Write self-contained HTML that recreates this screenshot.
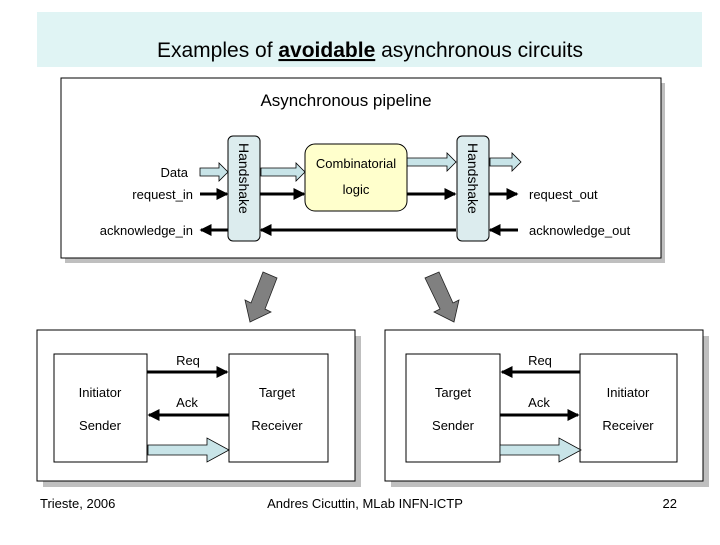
<!DOCTYPE html>
<html><head><style>
body{margin:0;width:720px;height:540px;background:#fff;overflow:hidden;font-family:"Liberation Sans",sans-serif;}
</style></head><body>
<svg width="720" height="540" xmlns="http://www.w3.org/2000/svg" font-family="Liberation Sans, sans-serif">
<defs>
<marker id="ah" markerWidth="4" markerHeight="4" refX="3.5" refY="2" orient="auto" markerUnits="strokeWidth"><path d="M0,0 L4,2 L0,4 z" fill="#000"/></marker>
</defs>
<rect x="37" y="12" width="665" height="55" fill="#e0f4f4"/>
<text x="370" y="57" font-size="21" text-anchor="middle">Examples of <tspan font-weight="bold" text-decoration="underline">avoidable</tspan> asynchronous circuits</text>

<!-- top box -->
<rect x="65" y="83" width="600" height="180" fill="#bfbfbf"/>
<rect x="61" y="78" width="600" height="180" fill="#fff" stroke="#000" stroke-width="1"/>
<text x="346" y="106" font-size="17" text-anchor="middle">Asynchronous pipeline</text>

<g stroke="#000" stroke-width="3" fill="none">
<line x1="200" y1="194" x2="227" y2="194" marker-end="url(#ah)"/>
<line x1="260" y1="194" x2="304" y2="194" marker-end="url(#ah)"/>
<line x1="407" y1="194" x2="455" y2="194" marker-end="url(#ah)"/>
<line x1="489" y1="194" x2="517" y2="194" marker-end="url(#ah)"/>
<line x1="228" y1="230" x2="201" y2="230" marker-end="url(#ah)"/>
<line x1="456" y1="230" x2="261" y2="230" marker-end="url(#ah)"/>
<line x1="518" y1="230" x2="490" y2="230" marker-end="url(#ah)"/>
</g>
<g fill="#c8e4e8" stroke="#000" stroke-width="0.8">
<path d="M200,168 h19 v-5 l9,9 l-9,9 v-5 h-19z"/>
<path d="M261,168 h35 v-5 l9,9 l-9,9 v-5 h-35z"/>
<path d="M407,158 h40 v-5 l9,9 l-9,9 v-5 h-40z"/>
<path d="M490,158 h22 v-5 l9,9 l-9,9 v-5 h-22z"/>
</g>
<rect x="228" y="136" width="32" height="105" rx="5" fill="#dcecee" stroke="#000"/>
<rect x="457" y="136" width="32" height="105" rx="5" fill="#dcecee" stroke="#000"/>
<text font-size="14" transform="translate(239,143) rotate(90)">Handshake</text>
<text font-size="14" transform="translate(468,143) rotate(90)">Handshake</text>
<rect x="305" y="144" width="102" height="67" rx="10" fill="#ffffcc" stroke="#000"/>
<text x="356" y="168" font-size="13" text-anchor="middle">Combinatorial</text>
<text x="356" y="194" font-size="13" text-anchor="middle">logic</text>
<g font-size="13">
<text x="188" y="177" text-anchor="end">Data</text>
<text x="193" y="199" text-anchor="end">request_in</text>
<text x="193" y="235" text-anchor="end">acknowledge_in</text>
<text x="529" y="199">request_out</text>
<text x="529" y="235">acknowledge_out</text>
</g>

<!-- gray arrows -->
<path d="M263,272 L277,278 L265,309 L271,312 L250,322 L245,300 L251,303 Z" fill="#808080" stroke="#222" stroke-width="0.8"/>
<path d="M439,272 L453,303 L459,300 L454,322 L434,312 L440,309 L425,278 Z" fill="#808080" stroke="#222" stroke-width="0.8"/>

<!-- bottom left -->
<rect x="43" y="336" width="318" height="151" fill="#bfbfbf"/>
<rect x="37" y="330" width="318" height="151" fill="#fff" stroke="#000"/>
<rect x="54" y="354" width="93" height="108" fill="#fff" stroke="#000"/>
<rect x="229" y="354" width="99" height="108" fill="#fff" stroke="#000"/>
<g stroke="#000" stroke-width="3">
<line x1="147" y1="372" x2="227" y2="372" marker-end="url(#ah)"/>
<line x1="229" y1="415" x2="149" y2="415" marker-end="url(#ah)"/>
</g>
<path d="M148,445 h59 v-7 l22,12 l-22,12 v-7 h-59z" fill="#c8e4e8" stroke="#000" stroke-width="0.8"/>
<g font-size="13" text-anchor="middle">
<text x="188" y="365">Req</text>
<text x="187" y="407">Ack</text>
<text x="100" y="397">Initiator</text>
<text x="100" y="430">Sender</text>
<text x="277" y="397">Target</text>
<text x="277" y="430">Receiver</text>
</g>

<!-- bottom right -->
<rect x="391" y="336" width="318" height="151" fill="#bfbfbf"/>
<rect x="385" y="330" width="318" height="151" fill="#fff" stroke="#000"/>
<rect x="406" y="354" width="94" height="108" fill="#fff" stroke="#000"/>
<rect x="580" y="354" width="97" height="108" fill="#fff" stroke="#000"/>
<g stroke="#000" stroke-width="3">
<line x1="580" y1="372" x2="502" y2="372" marker-end="url(#ah)"/>
<line x1="500" y1="415" x2="578" y2="415" marker-end="url(#ah)"/>
</g>
<path d="M500,445 h59 v-7 l22,12 l-22,12 v-7 h-59z" fill="#c8e4e8" stroke="#000" stroke-width="0.8"/>
<g font-size="13" text-anchor="middle">
<text x="540" y="365">Req</text>
<text x="539" y="407">Ack</text>
<text x="453" y="397">Target</text>
<text x="453" y="430">Sender</text>
<text x="628" y="397">Initiator</text>
<text x="628" y="430">Receiver</text>
</g>

<g font-size="13">
<text x="40" y="508">Trieste, 2006</text>
<text x="365" y="508" text-anchor="middle">Andres Cicuttin, MLab INFN-ICTP</text>
<text x="677" y="508" text-anchor="end">22</text>
</g>
</svg>
</body></html>
